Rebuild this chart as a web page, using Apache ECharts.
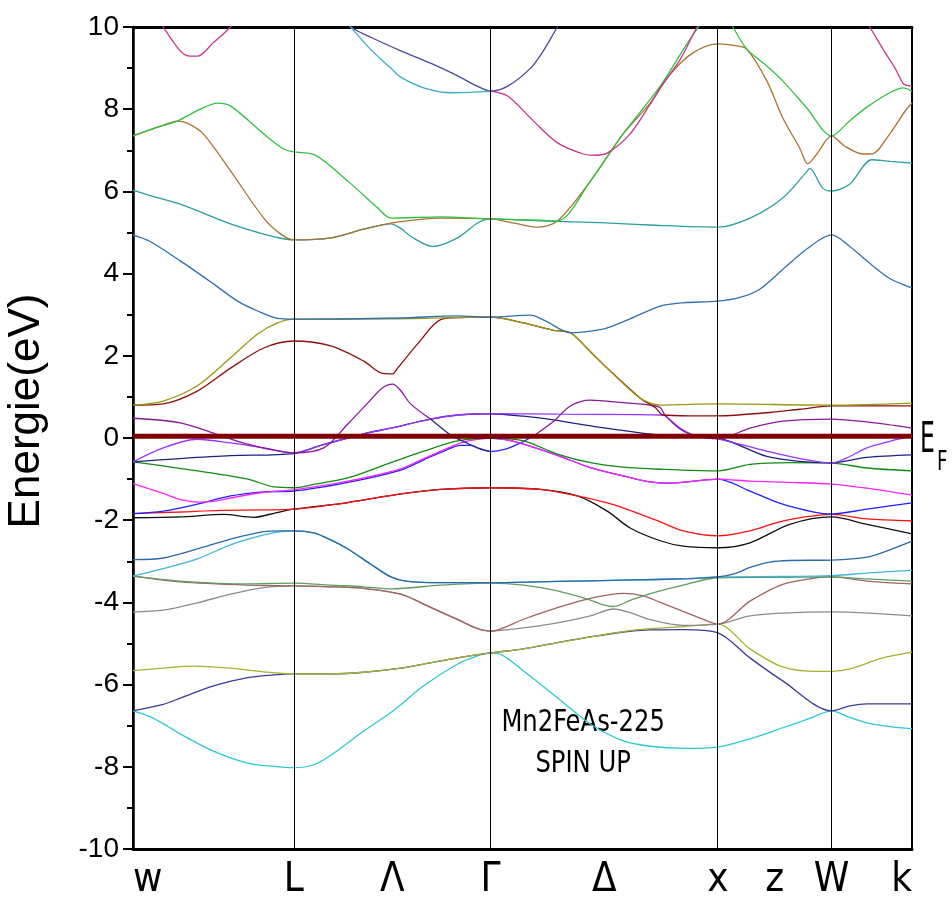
<!DOCTYPE html>
<html>
<head>
<meta charset="utf-8">
<title>Mn2FeAs-225 spin up band structure</title>
<script src="https://cdn.jsdelivr.net/npm/echarts@6/dist/echarts.min.js"></script>
<style>
  html, body { margin: 0; padding: 0; background: #fff; }
  #chart { width: 952px; height: 903px; }
</style>
</head>
<body>
<div id="chart"></div>
<script>
// k-path W – L – Γ – X – W – K, k in units of 2π/a
const symPointK = [0, 0.7071, 1.5731, 2.5731, 3.0731, 3.4267];
const pathLabelK = [0, 0.7071, 1.1401, 1.5731, 2.0731, 2.5731, 2.8231, 3.0731, 3.4267];
const pathLabelText = ['w', 'L', 'Λ', 'Γ', 'Δ', 'x', 'z', 'W', 'k'];
const fermiLevel = 0.04;

// Bands: [k, E (eV)]
const bandCyanLow = [[0,-6.64],[0.075,-6.78],[0.133,-6.95],[0.208,-7.20],[0.354,-7.62],[0.504,-7.91],[0.619,-7.99],[0.707,-8.02],[0.795,-7.95],[0.870,-7.72],[1.015,-7.13],[1.134,-6.68],[1.279,-6.03],[1.428,-5.50],[1.507,-5.32],[1.573,-5.23],[1.630,-5.30],[1.718,-5.67],[1.867,-6.32],[2.012,-6.96],[2.156,-7.37],[2.275,-7.50],[2.420,-7.55],[2.573,-7.52],[2.714,-7.32],[2.858,-7.05],[2.977,-6.82],[3.073,-6.64],[3.153,-6.80],[3.228,-6.93],[3.329,-7.02],[3.427,-7.07]];
const bandNavyLow = [[0,-6.64],[0.133,-6.48],[0.208,-6.33],[0.354,-6.03],[0.504,-5.83],[0.606,-5.77],[0.707,-5.74],[0.870,-5.74],[1.015,-5.70],[1.178,-5.60],[1.279,-5.50],[1.428,-5.35],[1.573,-5.23],[1.718,-5.13],[1.867,-4.98],[2.012,-4.84],[2.156,-4.72],[2.275,-4.67],[2.420,-4.66],[2.573,-4.74],[2.714,-5.35],[2.858,-5.91],[3.073,-6.64],[3.153,-6.52],[3.228,-6.47],[3.427,-6.47]];
const bandOliveLow = [[0,-5.66],[0.133,-5.60],[0.265,-5.55],[0.429,-5.60],[0.575,-5.69],[0.707,-5.74],[0.870,-5.74],[1.015,-5.70],[1.178,-5.60],[1.279,-5.50],[1.428,-5.35],[1.573,-5.23],[1.718,-5.13],[1.867,-4.98],[2.012,-4.84],[2.156,-4.71],[2.275,-4.64],[2.420,-4.59],[2.573,-4.53],[2.714,-5.13],[2.858,-5.57],[3.008,-5.68],[3.073,-5.68],[3.153,-5.62],[3.299,-5.35],[3.427,-5.21]];
const bandGray = [[0,-4.23],[0.133,-4.19],[0.283,-4.01],[0.429,-3.80],[0.575,-3.64],[0.707,-3.60],[0.870,-3.62],[1.015,-3.66],[1.178,-3.80],[1.309,-4.12],[1.441,-4.45],[1.507,-4.62],[1.573,-4.70],[1.718,-4.62],[1.867,-4.50],[2.012,-4.33],[2.113,-4.16],[2.187,-4.25],[2.275,-4.42],[2.420,-4.56],[2.573,-4.53],[2.714,-4.33],[2.858,-4.26],[3.073,-4.23],[3.241,-4.26],[3.427,-4.33]];
const bandRose = [[0,-3.36],[0.208,-3.50],[0.504,-3.58],[0.707,-3.60],[0.870,-3.62],[1.015,-3.66],[1.178,-3.80],[1.309,-4.12],[1.441,-4.45],[1.507,-4.62],[1.573,-4.70],[1.718,-4.41],[1.867,-4.13],[1.999,-3.92],[2.113,-3.80],[2.156,-3.78],[2.244,-3.84],[2.319,-4.00],[2.420,-4.22],[2.494,-4.38],[2.573,-4.53],[2.714,-3.97],[2.858,-3.56],[3.008,-3.40],[3.073,-3.38],[3.228,-3.48],[3.427,-3.55]];
const bandSage = [[0,-3.36],[0.208,-3.48],[0.504,-3.55],[0.707,-3.53],[0.870,-3.58],[1.015,-3.62],[1.134,-3.67],[1.353,-3.58],[1.573,-3.53],[1.718,-3.58],[1.867,-3.72],[1.999,-3.92],[2.069,-4.06],[2.113,-4.10],[2.187,-3.95],[2.244,-3.84],[2.319,-3.72],[2.420,-3.58],[2.573,-3.40],[2.858,-3.39],[3.073,-3.38],[3.228,-3.43],[3.427,-3.48]];
const bandSteelMid = [[0,-2.96],[0.133,-2.92],[0.283,-2.70],[0.429,-2.46],[0.575,-2.28],[0.650,-2.26],[0.707,-2.26],[0.795,-2.31],[0.870,-2.48],[0.945,-2.70],[1.046,-3.07],[1.134,-3.38],[1.200,-3.48],[1.353,-3.52],[1.573,-3.52],[1.867,-3.49],[2.156,-3.46],[2.450,-3.42],[2.573,-3.38],[2.648,-3.30],[2.714,-3.15],[2.801,-3.02],[2.889,-2.98],[3.073,-2.97],[3.228,-2.90],[3.329,-2.72],[3.427,-2.51]];
const bandSkyMid = [[0,-3.36],[0.133,-3.18],[0.283,-2.94],[0.429,-2.60],[0.575,-2.36],[0.650,-2.28],[0.707,-2.26],[0.795,-2.31],[0.870,-2.48],[0.945,-2.70],[1.046,-3.07],[1.134,-3.38],[1.200,-3.48],[1.353,-3.52],[1.573,-3.52],[1.867,-3.49],[2.156,-3.46],[2.450,-3.42],[2.573,-3.38],[2.858,-3.37],[3.073,-3.35],[3.241,-3.28],[3.427,-3.22]];
const bandBlack = [[0,-1.94],[0.208,-1.92],[0.398,-1.86],[0.530,-1.93],[0.628,-1.82],[0.707,-1.73],[0.945,-1.57],[1.178,-1.36],[1.353,-1.25],[1.573,-1.21],[1.792,-1.25],[1.955,-1.41],[2.086,-1.78],[2.187,-2.19],[2.319,-2.50],[2.420,-2.63],[2.573,-2.67],[2.714,-2.55],[2.889,-2.10],[3.073,-1.92],[3.228,-2.10],[3.427,-2.33]];
const bandRed = [[0,-1.84],[0.208,-1.80],[0.385,-1.76],[0.561,-1.75],[0.707,-1.73],[0.945,-1.57],[1.178,-1.36],[1.353,-1.25],[1.573,-1.21],[1.792,-1.25],[1.955,-1.41],[2.086,-1.58],[2.156,-1.70],[2.319,-2.04],[2.420,-2.26],[2.573,-2.38],[2.714,-2.26],[2.858,-2.02],[3.073,-1.86],[3.228,-1.97],[3.427,-2.02]];
const bandBlueA = [[0,-1.84],[0.133,-1.78],[0.283,-1.61],[0.429,-1.41],[0.575,-1.31],[0.707,-1.29],[0.945,-1.08],[1.178,-0.78],[1.279,-0.53],[1.375,-0.30],[1.441,-0.18],[1.485,-0.18],[1.529,-0.27],[1.573,-0.33],[1.639,-0.27],[1.705,-0.12],[1.762,0.05]];
const bandBlueB = [[1.573,0.0],[1.639,-0.04],[1.718,-0.15],[1.867,-0.42],[2.012,-0.72],[2.156,-0.92],[2.275,-1.07],[2.363,-1.10],[2.450,-1.06],[2.573,-1.00],[2.714,-1.29],[2.858,-1.61],[3.073,-1.85],[3.228,-1.73],[3.427,-1.58]];
const bandMagenta = [[0,-1.11],[0.133,-1.35],[0.208,-1.50],[0.283,-1.56],[0.354,-1.54],[0.429,-1.46],[0.575,-1.32],[0.707,-1.26],[0.945,-1.05],[1.178,-0.75],[1.279,-0.50],[1.375,-0.27],[1.441,-0.12],[1.507,-0.04],[1.573,0.0],[1.639,-0.04],[1.718,-0.15],[1.867,-0.42],[2.012,-0.72],[2.156,-0.92],[2.275,-1.07],[2.363,-1.10],[2.450,-1.06],[2.573,-1.00],[2.714,-1.05],[2.889,-1.08],[3.073,-1.12],[3.228,-1.22],[3.427,-1.39]];
const bandGreen = [[0,-0.58],[0.133,-0.68],[0.283,-0.80],[0.504,-1.00],[0.619,-1.19],[0.707,-1.21],[0.795,-1.13],[0.945,-0.97],[1.134,-0.60],[1.279,-0.32],[1.428,-0.07],[1.573,0.0],[1.718,-0.07],[1.867,-0.39],[2.012,-0.60],[2.156,-0.71],[2.319,-0.76],[2.573,-0.80],[2.714,-0.64],[2.889,-0.60],[3.073,-0.61],[3.228,-0.73],[3.427,-0.80]];
const bandNavy = [[0,-0.58],[0.208,-0.50],[0.429,-0.43],[0.707,-0.38],[0.826,-0.18],[0.945,0.0],[1.046,0.14],[1.134,0.24],[1.309,0.46],[1.428,0.56],[1.573,0.59],[1.718,0.53],[1.849,0.44],[2.056,0.26],[2.319,0.07],[2.573,0.0],[2.788,-0.45],[2.933,-0.57],[3.073,-0.60],[3.228,-0.47],[3.427,-0.41]];
const bandViolet = [[0,-0.58],[0.133,-0.24],[0.283,-0.03],[0.429,-0.12],[0.575,-0.24],[0.707,-0.36],[0.826,-0.18],[0.945,0.0],[1.046,0.14],[1.134,0.24],[1.309,0.46],[1.428,0.56],[1.573,0.59],[1.867,0.58],[2.231,0.57],[2.319,0.56],[2.341,0.54],[2.406,0.24],[2.463,0.08],[2.573,-0.02],[2.788,-0.32],[2.933,-0.50],[3.073,-0.61],[3.153,-0.45],[3.228,-0.24],[3.329,-0.08],[3.427,0.05]];
const bandPurpleA = [[0,0.48],[0.208,0.37],[0.354,0.12],[0.504,-0.15],[0.707,-0.36],[0.839,-0.24],[0.945,0.34],[1.024,0.80],[1.098,1.22],[1.142,1.31],[1.178,1.15],[1.221,0.83],[1.309,0.46]];
const bandNavyDrop = [[1.309,0.46],[1.397,0.07],[1.441,-0.05],[1.507,-0.22],[1.573,-0.33]];
const bandPurpleB = [[1.762,0.05],[1.849,0.40],[1.924,0.78],[2.012,0.92],[2.156,0.86],[2.275,0.80],[2.319,0.74],[2.341,0.55],[2.406,0.22],[2.463,0.07],[2.573,-0.02],[2.714,0.24],[2.858,0.41],[3.073,0.46],[3.228,0.39],[3.427,0.24]];
const bandMaroon = [[0,0.80],[0.133,0.83],[0.283,1.14],[0.429,1.70],[0.575,2.19],[0.707,2.36],[0.870,2.24],[1.015,1.87],[1.098,1.57],[1.142,1.56],[1.164,1.70],[1.252,2.29],[1.353,2.88],[1.441,2.93],[1.573,2.94],[1.718,2.80],[1.849,2.62],[1.924,2.56],[2.012,2.10],[2.086,1.70],[2.231,0.97],[2.297,0.74],[2.332,0.56],[2.450,0.54],[2.573,0.54],[2.801,0.62],[2.933,0.70],[3.073,0.78],[3.241,0.78],[3.427,0.78]];
const bandOlive = [[0,0.80],[0.133,0.90],[0.283,1.27],[0.429,1.95],[0.548,2.53],[0.636,2.80],[0.707,2.89],[1.134,2.90],[1.573,2.94],[1.718,2.80],[1.849,2.62],[1.924,2.56],[2.012,2.10],[2.086,1.70],[2.231,0.97],[2.319,0.80],[2.450,0.82],[2.573,0.83],[3.073,0.80],[3.427,0.85]];
const bandSteelHigh = [[0,4.94],[0.075,4.78],[0.208,4.31],[0.354,3.75],[0.460,3.33],[0.548,3.09],[0.636,2.91],[0.707,2.89],[1.178,2.92],[1.428,2.97],[1.573,2.94],[1.749,2.99],[1.814,2.85],[1.924,2.56],[2.012,2.60],[2.086,2.68],[2.187,2.90],[2.319,3.21],[2.420,3.29],[2.573,3.33],[2.670,3.42],[2.757,3.62],[2.858,4.10],[2.964,4.60],[3.073,4.94],[3.153,4.66],[3.228,4.31],[3.329,3.88],[3.427,3.65]];
const bandTeal = [[0,6.03],[0.075,5.90],[0.208,5.69],[0.429,5.21],[0.575,4.96],[0.650,4.86],[0.707,4.82],[0.870,4.87],[1.015,5.08],[1.134,5.21],[1.178,5.10],[1.221,4.91],[1.318,4.66],[1.428,4.87],[1.516,5.23],[1.573,5.33],[1.718,5.30],[1.867,5.27],[2.056,5.24],[2.319,5.17],[2.573,5.13],[2.714,5.35],[2.858,5.84],[2.964,6.48],[2.977,6.56],[3.034,6.08],[3.073,6.01],[3.153,6.18],[3.250,6.77],[3.329,6.73],[3.427,6.69]];
const bandBrownTop = [[0,7.35],[0.119,7.58],[0.194,7.71],[0.239,7.66],[0.309,7.40],[0.429,6.50],[0.575,5.35],[0.650,4.96],[0.707,4.82],[0.870,4.87],[1.015,5.08],[1.134,5.23],[1.353,5.35],[1.573,5.33],[1.683,5.22],[1.779,5.13],[1.867,5.28],[2.012,6.25],[2.156,7.40],[2.275,8.15],[2.363,8.85],[2.463,9.37],[2.573,9.59],[2.656,9.54],[2.700,9.46],[2.788,8.69],[2.858,7.79],[2.933,7.05],[2.968,6.67],[3.008,6.91],[3.073,7.35],[3.131,7.10],[3.210,6.91],[3.250,6.91],[3.329,7.40],[3.396,7.95],[3.427,8.15]];
const bandGreenTop = [[0,7.35],[0.119,7.58],[0.194,7.71],[0.296,8.00],[0.371,8.15],[0.429,8.08],[0.575,7.40],[0.663,7.03],[0.707,6.96],[0.795,6.90],[0.945,6.25],[1.076,5.60],[1.134,5.35],[1.353,5.38],[1.573,5.33],[1.792,5.30],[1.867,5.28],[2.012,6.25],[2.156,7.40],[2.319,8.56],[2.450,9.70],[2.538,10.30],[2.604,10.35],[2.639,10.0],[2.700,9.46],[2.788,9.05],[2.858,8.69],[2.964,8.03],[3.073,7.35],[3.153,7.72],[3.228,8.05],[3.329,8.40],[3.387,8.52],[3.427,8.44]];
const bandIndigoTop = [[0.914,10.3],[0.958,10.0],[1.046,9.75],[1.178,9.42],[1.309,9.12],[1.428,8.81],[1.507,8.58],[1.573,8.44],[1.648,8.56],[1.749,9.0],[1.805,9.42],[1.867,10.0],[1.924,10.5]];
const bandSkyTop = [[0.914,10.3],[0.958,10.0],[1.046,9.45],[1.134,9.00],[1.178,8.78],[1.279,8.52],[1.397,8.40],[1.485,8.41],[1.573,8.44]];
const bandRoseTop = [[1.573,8.44],[1.648,8.32],[1.762,7.71],[1.867,7.18],[1.981,6.91],[2.034,6.88],[2.086,6.93],[2.187,7.40],[2.275,8.12],[2.319,8.52],[2.406,9.20],[2.481,10.0],[2.538,10.5]];
const bandRoseTopLeft = [[0.097,10.35],[0.133,10.0],[0.208,9.42],[0.252,9.29],[0.283,9.29],[0.354,9.62],[0.429,10.0],[0.473,10.3]];
const bandRoseTopRight = [[3.197,10.4],[3.241,10.0],[3.299,9.46],[3.352,9.0],[3.387,8.63],[3.405,8.58],[3.427,8.56]];

// drawing order and colours
const bandStyles = [
  [bandCyanLow, '#2cc8d4'],
  [bandNavyLow, '#3c3c98'],
  [bandOliveLow, '#a8b030'],
  [bandGray, '#8c8c8c'],
  [bandRose, '#a06464'],
  [bandSage, '#5e9e5e'],
  [bandSkyMid, '#40b4d8'],
  [bandSteelMid, '#2a6aa6'],
  [bandBlack, '#101010'],
  [bandRed, '#ff1010'],
  [bandBlueB, '#2020ff'],
  [bandBlueA, '#2020ff'],
  [bandMagenta, '#ff22ff'],
  [bandGreen, '#108c10'],
  [bandNavy, '#202080'],
  [bandViolet, '#9933ff'],
  [bandPurpleA, '#8a1a9a'],
  [bandNavyDrop, '#282890'],
  [bandPurpleB, '#8a1a9a'],
  [bandMaroon, '#8c1010'],
  [bandOlive, '#9a9a10'],
  [bandSteelHigh, '#3070b0'],
  [bandTeal, '#2a9e9e'],
  [bandBrownTop, '#a87430'],
  [bandGreenTop, '#33c040'],
  [bandIndigoTop, '#4848a0'],
  [bandSkyTop, '#3aaec8'],
  [bandRoseTop, '#c8368c'],
  [bandRoseTopLeft, '#c8368c'],
  [bandRoseTopRight, '#c8368c']
];

const chart = echarts.init(document.getElementById('chart'), null, { renderer: 'canvas' });
const narrow = '"Liberation Sans Narrow", "Arial Narrow", "DejaVu Sans Condensed", sans-serif';
const regular = '"Liberation Sans", Arial, sans-serif';
const kMax = symPointK[symPointK.length - 1];

const series = bandStyles.map(([data, color]) => ({
  type: 'line',
  data: data,
  smooth: 0.3,
  showSymbol: false,
  symbol: 'none',
  clip: true,
  silent: true,
  lineStyle: { color: color, width: 1.3 },
  emphasis: { disabled: true }
}));

// vertical lines at L, Γ, X, W
series.unshift({
  type: 'line',
  data: [],
  silent: true,
  markLine: {
    silent: true,
    symbol: 'none',
    label: { show: false },
    lineStyle: { color: '#000', width: 1, type: 'solid' },
    data: symPointK.slice(1, 5).map(k => ({ xAxis: k }))
  }
});

// Fermi level
series.push({
  type: 'line',
  data: [[0, fermiLevel], [kMax, fermiLevel]],
  showSymbol: false,
  symbol: 'none',
  silent: true,
  z: 10,
  lineStyle: { color: '#800000', width: 5 }
});

chart.setOption({
  animation: false,
  backgroundColor: '#fff',
  grid: { left: 133, right: 40, top: 27, bottom: 54, show: true, borderColor: '#000', borderWidth: 2 },
  xAxis: [{
    type: 'value', min: 0, max: kMax, position: 'bottom',
    axisLine: { show: true, onZero: false, lineStyle: { color: '#000', width: 3 } },
    axisTick: { show: false },
    splitLine: { show: false },
    axisLabel: {
      show: true,
      customValues: pathLabelK,
      alignMinLabel: 'left',
      alignMaxLabel: 'right',
      margin: 12,
      fontSize: 40,
      fontFamily: narrow,
      color: '#000',
      formatter: function (v) {
        const i = pathLabelK.findIndex(x => Math.abs(x - v) < 1e-6);
        return i >= 0 ? pathLabelText[i] : '';
      }
    }
  }, {
    type: 'value', min: 0, max: kMax, position: 'top',
    axisLine: { show: true, onZero: false, lineStyle: { color: '#000', width: 3 } },
    axisTick: { show: false }, axisLabel: { show: false }, splitLine: { show: false }
  }],
  yAxis: {
    type: 'value', min: -10, max: 10, interval: 2,
    axisLine: { show: true, onZero: false, lineStyle: { color: '#000', width: 2.5 } },
    axisTick: { show: true, length: 10, lineStyle: { color: '#000', width: 2 } },
    minorTick: { show: true, splitNumber: 2, length: 6, lineStyle: { color: '#000', width: 2 } },
    splitLine: { show: false },
    minorSplitLine: { show: false },
    axisLabel: { fontSize: 28, color: '#000', margin: 14, fontFamily: regular }
  },
  series: series
});

// texts placed from the axis scales
const fermiPx = chart.convertToPixel({ gridIndex: 0 }, [kMax, fermiLevel]);
const notePx = chart.convertToPixel({ gridIndex: 0 }, [1.98, -7.43]);
chart.setOption({
  graphic: [
    {
      type: 'text', x: 27, y: 411, rotation: Math.PI / 2,
      style: { text: 'Energie(eV)', font: '44px ' + regular, fill: '#000',
               align: 'center', verticalAlign: 'middle', textAlign: 'center', textVerticalAlign: 'middle' }
    },
    {
      type: 'text', x: notePx[0], y: notePx[1], scaleX: 0.87,
      style: { text: 'Mn2FeAs-225\nSPIN UP', font: '31px ' + narrow, lineHeight: 41, fill: '#000',
               align: 'center', verticalAlign: 'middle', textAlign: 'center', textVerticalAlign: 'middle' }
    },
    {
      type: 'text', x: fermiPx[0] + 8, y: fermiPx[1] + 5, scaleX: 0.62,
      style: { text: 'E', font: '42px ' + narrow, fill: '#000',
               align: 'left', verticalAlign: 'middle', textAlign: 'left', textVerticalAlign: 'middle' }
    },
    {
      type: 'text', x: fermiPx[0] + 25, y: fermiPx[1] + 27, scaleX: 0.75,
      style: { text: 'F', font: '27px ' + narrow, fill: '#000',
               align: 'left', verticalAlign: 'middle', textAlign: 'left', textVerticalAlign: 'middle' }
    }
  ]
});
</script>
</body>
</html>
